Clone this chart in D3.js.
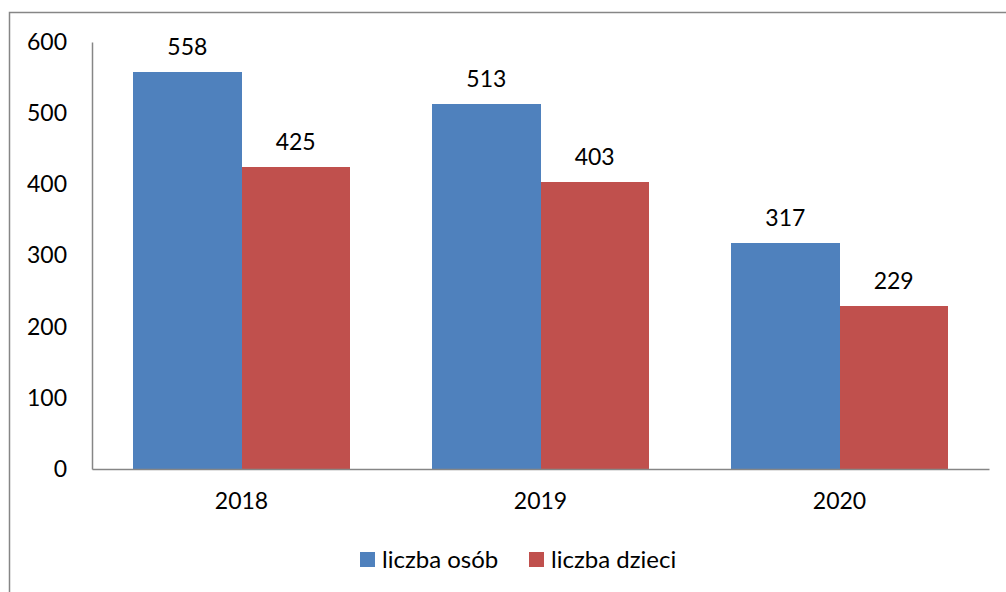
<!DOCTYPE html>
<html>
<head>
<meta charset="utf-8">
<script src="https://cdn.jsdelivr.net/npm/d3@7"></script>
<style>
  body { margin: 0; background: #fff; }
  text { font-family: Lato, "Open Sans", sans-serif; fill: #000; }
</style>
</head>
<body>
<div id="chart"></div>
<script>
// data
var years = ["2018", "2019", "2020"];
var series = ["liczba osób", "liczba dzieci"];
var osob = [558, 513, 317];
var dzieci = [425, 403, 229];
var yTicks = [0, 100, 200, 300, 400, 500, 600];
var colors = ["#4F81BD", "#C0504D"];

var W = 1006, H = 592;
var margin = {top: 42, right: 17, bottom: 123, left: 92};
var width = W - margin.left - margin.right,
    height = H - margin.top - margin.bottom;
var fs = "23px";

var svg = d3.select("#chart").append("svg")
    .attr("width", W)
    .attr("height", H);

// outer frame (cut off at right / bottom)
svg.append("rect")
    .attr("x", 9.5).attr("y", 12.5)
    .attr("width", W + 20).attr("height", H + 20)
    .attr("fill", "none")
    .attr("stroke", "#868686")
    .attr("stroke-width", 1.5);

var g = svg.append("g")
    .attr("transform", "translate(" + margin.left + "," + margin.top + ")");

var x0 = d3.scaleBand().domain(years).range([0, width]).paddingInner(0).paddingOuter(0);
var x1 = d3.scaleBand().domain(series).range([0, x0.bandwidth()]).paddingInner(0).paddingOuter(0.38);
var y = d3.scaleLinear().domain([0, 600]).range([height, 0]);

var rows = years.map(function(yr, i) {
    return {year: yr, vals: [
        {key: series[0], value: osob[i], c: colors[0]},
        {key: series[1], value: dzieci[i], c: colors[1]}
    ]};
});

var grp = g.selectAll(".grp")
    .data(rows)
    .enter().append("g")
    .attr("transform", function(d) { return "translate(" + x0(d.year) + ",0)"; });

grp.selectAll("rect")
    .data(function(d) { return d.vals; })
    .enter().append("rect")
    .attr("x", function(d) { return x1(d.key); })
    .attr("y", function(d) { return y(d.value); })
    .attr("width", x1.bandwidth() + 0.5)
    .attr("height", function(d) { return height - y(d.value); })
    .attr("fill", function(d) { return d.c; })
    .attr("shape-rendering", "crispEdges");

grp.selectAll(".lbl")
    .data(function(d) { return d.vals; })
    .enter().append("text")
    .attr("x", function(d) { return x1(d.key) + x1.bandwidth() / 2; })
    .attr("y", function(d) { return y(d.value) - 17; })
    .attr("text-anchor", "middle")
    .style("font-size", fs)
    .text(function(d) { return d.value; });

// y axis
var yAxis = g.append("g")
    .call(d3.axisLeft(y).tickValues(yTicks).tickSize(0).tickPadding(25));
yAxis.select(".domain").attr("stroke", "#868686").attr("stroke-width", 1.5);
yAxis.selectAll("text").style("font-size", fs).attr("font-family", null);

// x axis
var xAxis = g.append("g")
    .attr("transform", "translate(0," + height + ")")
    .call(d3.axisBottom(x0).tickSize(0).tickPadding(24));
xAxis.select(".domain").attr("stroke", "#868686").attr("stroke-width", 1.5);
xAxis.selectAll("text").style("font-size", fs).attr("font-family", null);

// legend
var legX = [360, 529];
var leg = svg.selectAll(".leg")
    .data(series)
    .enter().append("g")
    .attr("transform", function(d, i) { return "translate(" + legX[i] + ",552)"; });
leg.append("rect")
    .attr("width", 15).attr("height", 15)
    .attr("fill", function(d, i) { return colors[i]; });
leg.append("text")
    .attr("x", 22).attr("y", 7.5)
    .attr("dy", "0.35em")
    .style("font-size", "24px")
    .text(function(d) { return d; });
</script>
</body>
</html>
